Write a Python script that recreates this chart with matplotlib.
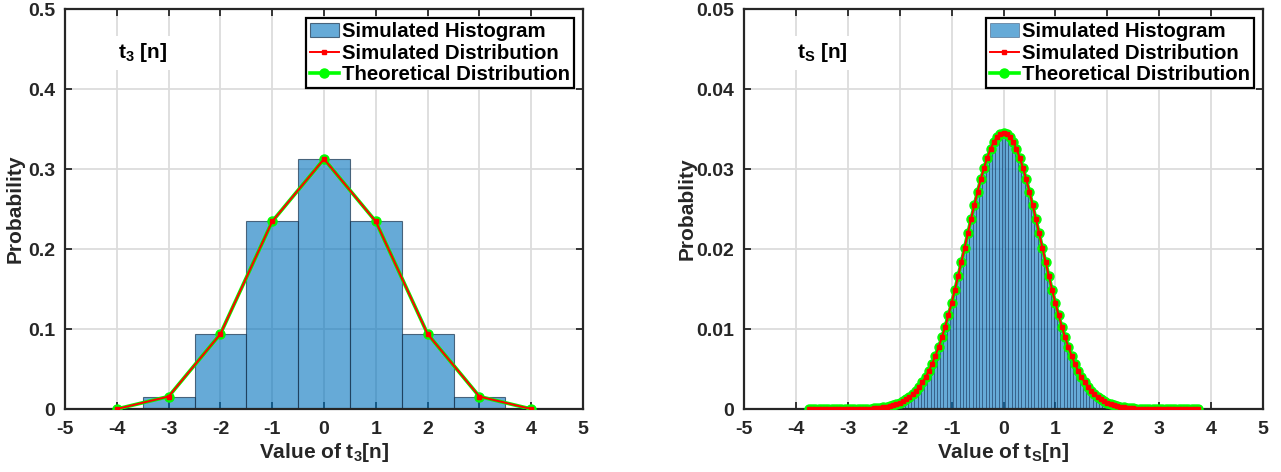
import matplotlib
matplotlib.use("Agg")
import matplotlib.pyplot as plt

plt.rcParams['font.family'] = ['Liberation Sans', 'DejaVu Sans']
plt.rcParams['font.weight'] = 'bold'
plt.rcParams['mathtext.fontset'] = 'custom'
plt.rcParams['mathtext.bf'] = 'Liberation Sans:bold'
plt.rcParams['mathtext.rm'] = 'Liberation Sans:bold'
plt.rcParams['mathtext.default'] = 'bf'

# ---------------- data ----------------
# left panel: t3[n]
t3_values = [-4, -3, -2, -1, 0, 1, 2, 3, 4]
t3_hist = [0.0, 0.0156, 0.0938, 0.2344, 0.3125, 0.2344, 0.0938, 0.0156, 0.0]
t3_sim = [0.0, 0.0156, 0.0938, 0.2344, 0.3125, 0.2344, 0.0938, 0.0156, 0.0]
t3_theory = [0.0, 0.0156, 0.0938, 0.2344, 0.3125, 0.2344, 0.0938, 0.0156, 0.0]

# right panel: tS[n], values from -3.75 to 3.75 in steps of 1/16 (121 values)
ts_values = [-3.75, -3.6875, -3.625, -3.5625, -3.5, -3.4375, -3.375, -3.3125,
             -3.25, -3.1875, -3.125, -3.0625, -3.0, -2.9375, -2.875, -2.8125,
             -2.75, -2.6875, -2.625, -2.5625, -2.5, -2.4375, -2.375, -2.3125,
             -2.25, -2.1875, -2.125, -2.0625, -2.0, -1.9375, -1.875, -1.8125,
             -1.75, -1.6875, -1.625, -1.5625, -1.5, -1.4375, -1.375, -1.3125,
             -1.25, -1.1875, -1.125, -1.0625, -1.0, -0.9375, -0.875, -0.8125,
             -0.75, -0.6875, -0.625, -0.5625, -0.5, -0.4375, -0.375, -0.3125,
             -0.25, -0.1875, -0.125, -0.0625, 0.0, 0.0625, 0.125, 0.1875,
             0.25, 0.3125, 0.375, 0.4375, 0.5, 0.5625, 0.625, 0.6875,
             0.75, 0.8125, 0.875, 0.9375, 1.0, 1.0625, 1.125, 1.1875,
             1.25, 1.3125, 1.375, 1.4375, 1.5, 1.5625, 1.625, 1.6875,
             1.75, 1.8125, 1.875, 1.9375, 2.0, 2.0625, 2.125, 2.1875,
             2.25, 2.3125, 2.375, 2.4375, 2.5, 2.5625, 2.625, 2.6875,
             2.75, 2.8125, 2.875, 2.9375, 3.0, 3.0625, 3.125, 3.1875,
             3.25, 3.3125, 3.375, 3.4375, 3.5, 3.5625, 3.625, 3.6875, 3.75]
ts_prob = [0.0, 0.0, 0.0, 0.0, 0.0, 0.0, 0.0, 0.0, 0.0, 0.0,
           0.0, 0.0, 0.00001, 0.00001, 0.00001, 0.00002, 0.00002, 0.00003, 0.00005, 0.00006,
           0.00009, 0.00012, 0.00016, 0.00021, 0.00027, 0.00035, 0.00046, 0.00059, 0.00075, 0.00095,
           0.00119, 0.00149, 0.00184, 0.00226, 0.00276, 0.00334, 0.00401, 0.00478, 0.00565, 0.00664,
           0.00774, 0.00895, 0.01028, 0.01172, 0.01325, 0.01488, 0.01659, 0.01835, 0.02014, 0.02195,
           0.02374, 0.02549, 0.02716, 0.02873, 0.03016, 0.03142, 0.03250, 0.03336, 0.03399, 0.03437,
           0.03450,
           0.03437, 0.03399, 0.03336, 0.03250, 0.03142, 0.03016, 0.02873, 0.02716, 0.02549, 0.02374,
           0.02195, 0.02014, 0.01835, 0.01659, 0.01488, 0.01325, 0.01172, 0.01028, 0.00895, 0.00774,
           0.00664, 0.00565, 0.00478, 0.00401, 0.00334, 0.00276, 0.00226, 0.00184, 0.00149, 0.00119,
           0.00095, 0.00075, 0.00059, 0.00046, 0.00035, 0.00027, 0.00021, 0.00016, 0.00012, 0.00009,
           0.00006, 0.00005, 0.00003, 0.00002, 0.00002, 0.00001, 0.00001, 0.00001, 0.0, 0.0,
           0.0, 0.0, 0.0, 0.0, 0.0, 0.0, 0.0, 0.0, 0.0, 0.0]

x_ticks = [-5, -4, -3, -2, -1, 0, 1, 2, 3, 4, 5]
x_ticklabels = ['-5', '-4', '-3', '-2', '-1', '0', '1', '2', '3', '4', '5']
left_yticks = [0, 0.1, 0.2, 0.3, 0.4, 0.5]
left_yticklabels = ['0', '0.1', '0.2', '0.3', '0.4', '0.5']
right_yticks = [0, 0.01, 0.02, 0.03, 0.04, 0.05]
right_yticklabels = ['0', '0.01', '0.02', '0.03', '0.04', '0.05']

labels = ['Simulated Histogram', 'Simulated Distribution', 'Theoretical Distribution']

# ---------------- styles ----------------
W, H = 1281, 472
fig = plt.figure(figsize=(W / 100, H / 100), dpi=100)
ax1 = fig.add_axes([65 / W, (H - 409) / H, 518 / W, 400 / H])
ax2 = fig.add_axes([744 / W, (H - 409) / H, 519 / W, 400 / H])

bar_face = (0.0, 0.447, 0.741, 0.6)
text_col = '#262626'
fs_tick = 14
fs_label = 15
fs_leg = 14.7


def style_axes(ax, yticks, yticklabels, ymax, ylabel_x):
    ax.set_xlim(-5, 5)
    ax.set_ylim(0, ymax)
    ax.set_xticks(x_ticks)
    ax.set_xticklabels(x_ticklabels)
    ax.set_yticks(yticks)
    ax.set_yticklabels(yticklabels)
    ax.grid(True, color='#dcdcdc', linewidth=1.3)
    ax.set_axisbelow(True)
    ax.tick_params(direction='in', top=True, right=True, length=5, width=1.3,
                   labelsize=fs_tick, colors=text_col, labelcolor=text_col)
    ax.tick_params(axis='x', pad=9)
    ax.tick_params(axis='y', pad=7)
    for lbl in ax.get_xticklabels() + ax.get_yticklabels():
        lbl.set_fontweight('bold')
    for s in ax.spines.values():
        s.set_linewidth(1.6)
        s.set_color(text_col)
    ax.yaxis.set_label_coords(ylabel_x, 0.5)
    ax.xaxis.set_label_coords(0.5, -0.08)


def add_legend(ax, handles):
    leg = ax.legend(handles, labels, loc='upper right', fontsize=fs_leg,
                    frameon=True, fancybox=False, edgecolor='black', framealpha=1,
                    borderpad=0.2, labelspacing=0.12, handlelength=1.4,
                    handletextpad=0.15, borderaxespad=0.45)
    leg.get_frame().set_linewidth(1.6)
    for t in leg.get_texts():
        t.set_fontweight('bold')
        t.set_color('black')
    return leg


# left panel
h1 = ax1.bar(t3_values, t3_hist, width=1.0, color=bar_face,
             edgecolor=(0.1, 0.2, 0.3, 0.7), linewidth=0.8, zorder=2)
g1, = ax1.plot(t3_values, t3_theory, color=(0, 1, 0), linewidth=2.6, marker='o',
               markersize=6.5, zorder=3)
r1, = ax1.plot(t3_values, t3_sim, color='red', linewidth=1.4, marker='s',
               markersize=3, zorder=4)
style_axes(ax1, left_yticks, left_yticklabels, 0.5, -0.077)
ax1.set_xlabel('Value of t$_3$[n]', fontsize=fs_label, fontweight='bold', color=text_col)
ax1.set_ylabel('Probability', fontsize=fs_label, fontweight='bold', color=text_col)
ax1.text(-3.97, 0.445, 't$_3$ [n]', fontsize=15, fontweight='bold', color='black',
         va='center', ha='left', zorder=6,
         bbox=dict(facecolor='white', edgecolor='none', pad=4))
add_legend(ax1, [h1, r1, g1])

# right panel
h2 = ax2.bar(ts_values, ts_prob, width=0.0625, color=bar_face,
             edgecolor=(0.1, 0.2, 0.35, 0.6), linewidth=0.5, zorder=2)
g2, = ax2.plot(ts_values, ts_prob, color=(0, 1, 0), linewidth=2.6, marker='o',
               markersize=6.5, zorder=3)
r2, = ax2.plot(ts_values, ts_prob, color='red', linewidth=1.4, marker='s',
               markersize=3, zorder=4)
style_axes(ax2, right_yticks, right_yticklabels, 0.05, -0.092)
ax2.set_xlabel('Value of t$_S$[n]', fontsize=fs_label, fontweight='bold', color=text_col)
ax2.set_ylabel('Probablity', fontsize=fs_label, fontweight='bold', color=text_col)
ax2.text(-3.97, 0.0445, 't$_S$ [n]', fontsize=15, fontweight='bold', color='black',
         va='center', ha='left', zorder=6,
         bbox=dict(facecolor='white', edgecolor='none', pad=4))
add_legend(ax2, [h2, r2, g2])

fig.savefig('out.png', dpi=100)
